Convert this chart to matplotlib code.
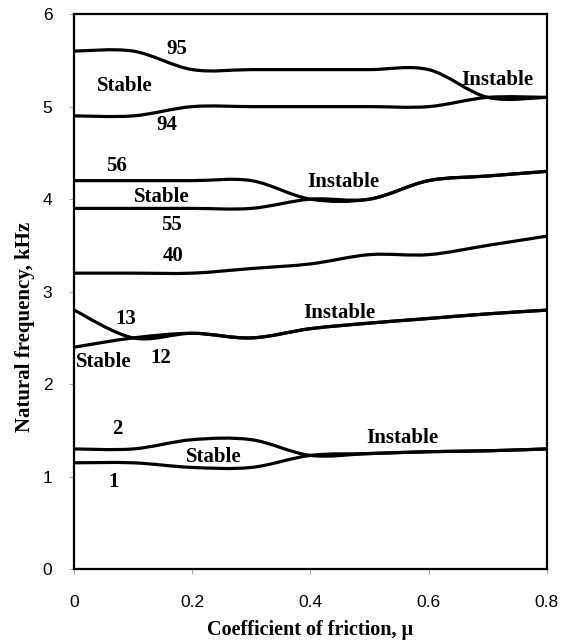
import matplotlib
matplotlib.use('Agg')
import matplotlib.pyplot as plt
import numpy as np
from matplotlib.path import Path
from matplotlib.patches import PathPatch

plt.rcParams.update({
    'font.family': 'Liberation Sans',
    'font.size': 12.5,
})

# Coefficient of friction at which the modes were computed
mu = [0.0, 0.1, 0.2, 0.3, 0.4, 0.5, 0.6, 0.7, 0.8]

# Natural frequencies (kHz) of the mode pairs
mode_1 = [1.15, 1.15, 1.10, 1.10, 1.23, 1.25, 1.27, 1.28, 1.30]
mode_2 = [1.30, 1.30, 1.40, 1.40, 1.23, 1.25, 1.27, 1.28, 1.30]
mode_12 = [2.40, 2.50, 2.55, 2.50, 2.60, 2.66, 2.71, 2.76, 2.80]
mode_13 = [2.80, 2.50, 2.55, 2.50, 2.60, 2.66, 2.71, 2.76, 2.80]
mode_40 = [3.20, 3.20, 3.20, 3.25, 3.30, 3.40, 3.40, 3.50, 3.60]
mode_55 = [3.90, 3.90, 3.90, 3.90, 4.00, 4.00, 4.20, 4.25, 4.30]
mode_56 = [4.20, 4.20, 4.20, 4.20, 4.00, 4.00, 4.20, 4.25, 4.30]
mode_94 = [4.90, 4.90, 5.00, 5.00, 5.00, 5.00, 5.00, 5.10, 5.10]
mode_95 = [5.60, 5.60, 5.40, 5.40, 5.40, 5.40, 5.40, 5.10, 5.10]

# Text labels: (text, mu, frequency)
labels = [
    ('95', 0.174, 5.62), ('Stable', 0.085, 5.22), ('94', 0.157, 4.80),
    ('Instable', 0.717, 5.29),
    ('56', 0.071, 4.36), ('Stable', 0.149, 4.02), ('55', 0.165, 3.72),
    ('Instable', 0.455, 4.19),
    ('40', 0.168, 3.38),
    ('13', 0.088, 2.70), ('Stable', 0.050, 2.24), ('12', 0.146, 2.28),
    ('Instable', 0.449, 2.77),
    ('2', 0.073, 1.52), ('Stable', 0.237, 1.21), ('1', 0.066, 0.94),
    ('Instable', 0.555, 1.42),
]


def smooth_line(ax, x, y, **kw):
    # cubic Bezier segments through the points (spreadsheet style smoothing)
    pts = np.column_stack([x, y])
    ext = np.vstack([pts[0], pts, pts[-1]])
    verts = [pts[0]]
    codes = [Path.MOVETO]
    for i in range(len(pts) - 1):
        p0, p1, p2, p3 = ext[i], ext[i + 1], ext[i + 2], ext[i + 3]
        c1 = p1 + (p2 - p0) / 6.0
        c2 = p2 - (p3 - p1) / 6.0
        verts += [c1, c2, p2]
        codes += [Path.CURVE4] * 3
    ax.add_patch(PathPatch(Path(verts, codes), fill=False, **kw))


fig = plt.figure(figsize=(5.66, 6.41), dpi=100)
ax = fig.add_axes([0.131, 0.112, 0.835, 0.866])

for series in [mode_1, mode_2, mode_12, mode_13, mode_40,
               mode_55, mode_56, mode_94, mode_95]:
    smooth_line(ax, mu, series, edgecolor='black', linewidth=2.3,
                capstyle='round', joinstyle='round')

for text, xv, yv in labels:
    ax.text(xv, yv, text, ha='center', va='center', fontsize=15,
            fontweight='bold', family='Liberation Serif')

ax.set_xlim(0, 0.8)
ax.set_ylim(0, 6)
ax.set_xticks([0, 0.2, 0.4, 0.6, 0.8])
ax.set_xticklabels(['0', '0.2', '0.4', '0.6', '0.8'])
ax.set_yticks([0, 1, 2, 3, 4, 5, 6])

for sp in ax.spines.values():
    sp.set_linewidth(1.6)
    sp.set_color('black')

ax.tick_params(axis='x', direction='out', length=3.6, width=0.8,
               color='#aaaaaa', pad=15, labelsize=12.5)
ax.tick_params(axis='y', direction='out', length=3.6, width=0.8,
               color='#aaaaaa', pad=12, labelsize=12.5)

ax.set_xlabel('Coefficient of friction, μ', fontsize=14.5, fontweight='bold',
              family='Liberation Serif')
ax.set_ylabel('Natural frequency, kHz', fontsize=15, fontweight='bold',
              family='Liberation Serif')
ax.xaxis.set_label_coords(0.5, -0.11)
ax.xaxis.label.set_va('center')
ax.yaxis.set_label_coords(-0.104, 0.436)
ax.yaxis.label.set_va('center')

fig.savefig('out.png', dpi=100)
